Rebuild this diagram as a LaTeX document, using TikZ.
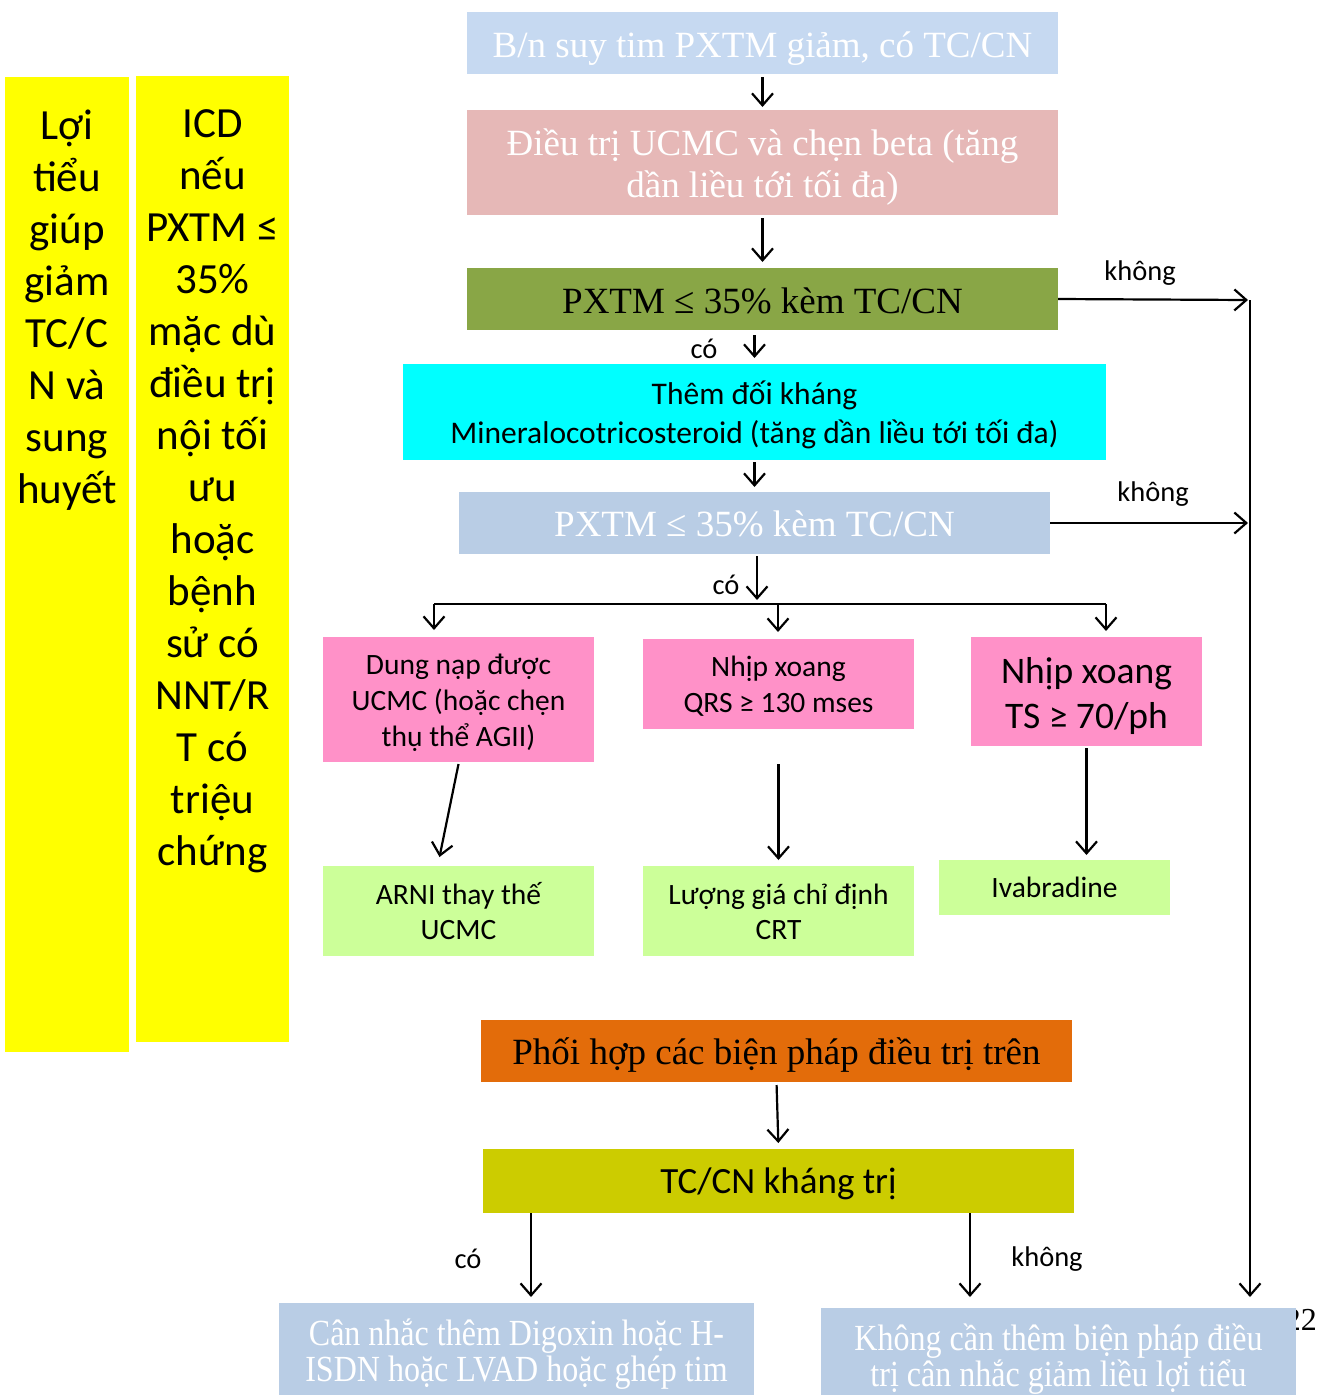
\documentclass[tikz,border=0pt]{standalone}
\usepackage{fontspec}
\setmainfont{Liberation Serif}
\newfontfamily\calfont{Carlito}
\newfontfamily\tallserif[FakeStretch=0.87]{Liberation Serif}
\usetikzlibrary{arrows.meta,calc}
\definecolor{cTop}{RGB}{198,217,241}
\definecolor{cRose}{RGB}{230,184,183}
\definecolor{cOlive}{RGB}{137,166,70}
\definecolor{cCyan}{RGB}{0,255,255}
\definecolor{cSteel}{RGB}{185,205,229}
\definecolor{cPink}{RGB}{255,145,200}
\definecolor{cLgreen}{RGB}{204,255,153}
\definecolor{cOrange}{RGB}{227,108,10}
\definecolor{cMustard}{RGB}{204,204,0}
\definecolor{cYellow}{RGB}{255,255,0}
\newcommand\fstrut[1]{\rule{0pt}{#1}}
\newcommand\lstrut[1]{\rule[-#1]{0pt}{#1}}
\begin{document}
\begin{tikzpicture}[x=1pt,y=-1pt,
  box/.style={inner sep=0pt,outer sep=0pt,align=center,draw=none},
  sbox/.style={inner sep=0pt,outer sep=0pt,draw=none,text height=#1,text depth=0pt},
  arr/.style={-{Straight Barb[length=12pt,width=21pt,line width=2.2pt]},line width=2.2pt},
  ln/.style={line width=2.2pt},
  lbl/.style={font=\calfont\fontsize{28.5}{32}\selectfont,inner sep=0pt}]
\useasboundingbox (0,0) rectangle (1322,1395);
\fill[white] (0,0) rectangle (1322,1395);

% yellow side columns
\node[box,fill=cYellow,minimum width=124pt,minimum height=975pt] (y1) at (67,564.5) {};
\node[box,fill=cYellow,minimum width=153pt,minimum height=966pt] (y2) at (212.5,559) {};
\node[box,anchor=north,font=\calfont\fontsize{43}{52}\selectfont] (y1t) at (67,109.5)
  {Lợi\\tiểu\\giúp\\giảm\\TC/C\\N và\\sung\\huyết};
\node[box,anchor=north,font=\calfont\fontsize{43}{52}\selectfont] (y2t) at (212.5,110)
  {ICD\\nếu\\PXTM ≤\\35\%\\mặc dù\\điều trị\\nội tối\\ưu\\hoặc\\bệnh\\sử có\\NNT/R\\T có\\triệu\\chứng};

% page number (partly hidden)
\node[inner sep=0pt,anchor=base east,font=\fontsize{32}{34}\selectfont] (pg) at (1317,1330) {22};

% main flow
\node[sbox=28pt,fill=cTop,minimum width=591pt,minimum height=62pt,text=white,font=\fontsize{37}{42}\selectfont] (b1) at (762.5,43) {B/n suy tim PXTM giảm, có TC/CN};
\node[box,fill=cRose,minimum width=591pt,minimum height=105pt,text=white,font=\fontsize{37}{42}\selectfont] (b2) at (762.5,162.5) {\fstrut{44pt}Điều trị UCMC và chẹn beta (tăng\\dần liều tới tối đa)\lstrut{17pt}};
\node[sbox=28.6pt,fill=cOlive,minimum width=591pt,minimum height=62pt,font=\fontsize{37}{42}\selectfont] (b3) at (762.5,299) {PXTM ≤ 35\% kèm TC/CN};
\node[box,fill=cCyan,minimum width=703pt,minimum height=96pt,font=\calfont\fontsize{31.5}{39}\selectfont] (b4) at (754.5,412) {\fstrut{40pt}Thêm đối kháng\\Mineralocotricosteroid (tăng dần liều tới tối đa)\lstrut{17pt}};
\node[sbox=27.4pt,fill=cSteel,minimum width=591pt,minimum height=62pt,text=white,font=\fontsize{37}{42}\selectfont] (b5) at (754.5,523) {PXTM ≤ 35\% kèm TC/CN};

% three branches
\node[box,fill=cPink,minimum width=271pt,minimum height=125pt,font=\calfont\fontsize{29.5}{36}\selectfont] (c1) at (458.5,699.5) {\fstrut{36pt}Dung nạp được\\UCMC (hoặc chẹn\\thụ thể AGII)\lstrut{15pt}};
\node[box,fill=cPink,minimum width=271pt,minimum height=90pt,font=\calfont\fontsize{29.5}{36}\selectfont] (c2) at (778.5,684) {\fstrut{36pt}Nhịp xoang\\QRS ≥ 130 mses\lstrut{16pt}};
\node[box,fill=cPink,minimum width=231pt,minimum height=109pt,font=\calfont\fontsize{37.5}{45}\selectfont] (c3) at (1086.5,691.5) {\fstrut{45pt}Nhịp xoang\\TS ≥ 70/ph\lstrut{17pt}};

\node[box,fill=cLgreen,minimum width=271pt,minimum height=90pt,font=\calfont\fontsize{29.5}{35}\selectfont] (d1) at (458.5,911) {\fstrut{37pt}ARNI thay thế\\UCMC\lstrut{16pt}};
\node[box,fill=cLgreen,minimum width=271pt,minimum height=90pt,font=\calfont\fontsize{29.5}{35}\selectfont] (d2) at (778.5,911) {\fstrut{37pt}Lượng giá chỉ định\\CRT\lstrut{16pt}};
\node[sbox=19.6pt,fill=cLgreen,minimum width=231pt,minimum height=55pt,font=\calfont\fontsize{29.5}{36}\selectfont] (d3) at (1054.5,887.5) {Ivabradine};

\node[sbox=27.4pt,fill=cOrange,minimum width=591pt,minimum height=62pt,font=\fontsize{37}{42}\selectfont] (e1) at (776.5,1051) {Phối hợp các biện pháp điều trị trên};
\node[sbox=25.4pt,fill=cMustard,minimum width=591pt,minimum height=64pt,font=\calfont\fontsize{37}{42}\selectfont] (e2) at (778.5,1181) {TC/CN kháng trị};

\node[box,fill=cSteel,minimum width=475pt,minimum height=92pt,text=white,font=\tallserif\fontsize{36.8}{36}\selectfont] (f1) at (516.5,1349) {\fstrut{42pt}Cân nhắc thêm Digoxin hoặc H-\\ISDN hoặc LVAD hoặc ghép tim\lstrut{14pt}};
\node[box,fill=cSteel,minimum width=475pt,minimum height=87pt,text=white,font=\tallserif\fontsize{36.8}{36}\selectfont] (f2) at (1058.5,1351.5) {\fstrut{42pt}Không cần thêm biện pháp điều\\trị cân nhắc giảm liều lợi tiểu\lstrut{9pt}};

% connectors
\draw[arr,shorten <=3pt,shorten >=3pt] (b1.south) -- (b2.north);
\draw[arr,shorten <=3pt,shorten >=6pt] (b2.south) -- (b3.north);
\draw[arr,shorten <=5pt,shorten >=6pt] (b3.south -| b4.north) -- (b4.north);
\node[lbl] (l1) at (704,349) {có};
\draw[arr,shorten <=2pt,shorten >=5pt] (b4.south) -- (b5.north);

\coordinate (br) at (757,604);
\coordinate (hl) at (434,604);
\coordinate (hm) at (778,604);
\coordinate (hr) at (1106,604);
\draw[arr,shorten <=2pt,shorten >=4pt] (b5.south -| br) -- (br);
\node[lbl] (l2) at (726,585) {có};
\draw[ln] (hl) -- (hr);
\draw[arr,shorten >=7pt] (hl) -- (hl |- c1.north);
\draw[arr,shorten >=7pt] (hm) -- (hm |- c2.north);
\draw[arr,shorten >=6pt] (hr) -- (hr |- c3.north);

\draw[arr] ($(c1.south)+(0,2)$) -- ($(d1.north)+(-19,-9)$);
\draw[arr,shorten <=35pt,shorten >=6pt] (c2.south) -- (d2.north);
\draw[arr,shorten <=2pt,shorten >=5pt] (c3.south) -- (c3.south |- d3.north);

\coordinate (rt) at (1250,300);
\draw[arr] (b3.east) -- ($(rt)+(-2,0)$);
\node[lbl] (l3) at (1140,273) {không};
\draw[arr,shorten >=11pt] (rt) -- (rt |- f2.north);
\draw[arr] (b5.east) -- ($(b5.east -| rt)+(-2,0)$);
\node[lbl] (l4) at (1153,494) {không};

\draw[arr,shorten <=3pt,shorten >=6pt] (e1.south) -- (e2.north);
\coordinate (p1) at (531,0);
\coordinate (p2) at (970,0);
\draw[arr,shorten >=6pt] (e2.south -| p1) -- (f1.north -| p1);
\node[lbl] (l5) at (468,1259) {có};
\draw[arr,shorten >=11pt] (e2.south -| p2) -- (f2.north -| p2);
\node[lbl] (l6) at (1047,1259) {không};
\end{tikzpicture}
\end{document}
